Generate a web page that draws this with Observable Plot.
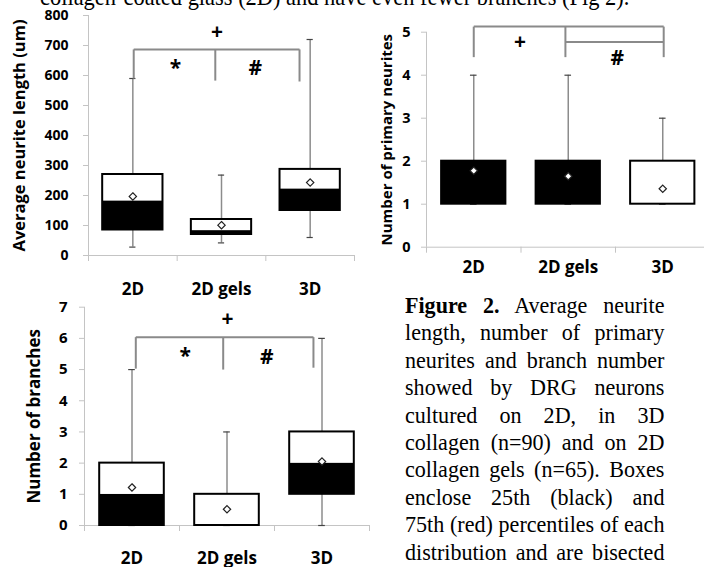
<!DOCTYPE html>
<html>
<head>
<meta charset="utf-8">
<script src="https://cdn.jsdelivr.net/npm/d3@7"></script>
<script src="https://cdn.jsdelivr.net/npm/@observablehq/plot@0.6"></script>
<style>
  html, body { margin: 0; padding: 0; background: #fff; }
  body { width: 704px; height: 567px; overflow: hidden; position: relative; }
  .panel { position: absolute; }
  .panel svg { max-width: none !important; background: transparent; overflow: visible; }
  .panel svg text { font-weight: 700; }
  .serif { font-family: "Liberation Serif", "Times New Roman", serif; font-size: 24px; line-height: 27.4px; color: #000; }
  #topline { position: absolute; left: 40px; top: -17px; white-space: nowrap; font-size: 24.4px; transform: scaleX(0.92); transform-origin: 0 0; }
  #caption { position: absolute; left: 405px; top: 292px; width: 282px; transform: scaleX(0.92); transform-origin: 0 0; }
  #caption div { text-align: justify; text-align-last: justify; }
</style>
</head>
<body>
<div id="topline" class="serif">collagen-coated glass (2D) and have even fewer branches (Fig 2).</div>
<div id="p1" class="panel" style="left:0px;top:0px;width:360px;height:300px"></div>
<div id="p2" class="panel" style="left:352px;top:0px;width:360px;height:290px"></div>
<div id="p3" class="panel" style="left:0px;top:290px;width:375px;height:277px"></div>
<div id="caption" class="serif">
  <div><b>Figure 2.</b> Average neurite</div>
  <div>length, number of primary</div>
  <div>neurites and branch number</div>
  <div>showed by DRG neurons</div>
  <div>cultured on 2D, in 3D</div>
  <div>collagen (n=90) and on 2D</div>
  <div>collagen gels (n=65). Boxes</div>
  <div>enclose 25th (black) and</div>
  <div>75th (red) percentiles of each</div>
  <div>distribution and are bisected</div>
</div>
<script>
// ---------- data ----------
const categories = ["2D", "2D gels", "3D"];

// Panel A: average neurite length (um)
const lengthMin    = [28, 42, 60];
const lengthQ1     = [85, 70, 150];
const lengthMedian = [182, 83, 222];
const lengthQ3     = [270, 120, 287];
const lengthMax    = [590, 268, 720];
const lengthMean   = [197, 101, 243];
const lengthTicks  = [0, 100, 200, 300, 400, 500, 600, 700, 800];
const lengthBrackets = [
  {x1: 0.51, y1: 687, x2: 2.38, y2: 687},
  {x1: 0.51, y1: 687, x2: 0.51, y2: 590},
  {x1: 1.43, y1: 687, x2: 1.43, y2: 583},
  {x1: 2.38, y1: 687, x2: 2.38, y2: 580}
];
const lengthSigns = [
  {label: "+", x: 1.45, y: 743},
  {label: "*", x: 0.98, y: 624},
  {label: "#", x: 1.88, y: 623}
];

// Panel B: number of primary neurites
const primaryMin    = [1, 1, 1];
const primaryQ1     = [1, 1, 1];
const primaryMedian = [2, 2, 1];
const primaryQ3     = [2, 2, 2];
const primaryMax    = [4, 4, 3];
const primaryMean   = [1.78, 1.65, 1.36];
const primaryTicks  = [0, 1, 2, 3, 4, 5];
const primaryBrackets = [
  {x1: 0.5, y1: 5.13, x2: 2.51, y2: 5.13},
  {x1: 0.5, y1: 5.13, x2: 0.5, y2: 4.42},
  {x1: 1.47, y1: 5.13, x2: 1.47, y2: 4.42},
  {x1: 2.51, y1: 5.13, x2: 2.51, y2: 4.42},
  {x1: 1.47, y1: 4.77, x2: 2.51, y2: 4.77}
];
const primarySigns = [
  {label: "+", x: 0.99, y: 4.76},
  {label: "#", x: 2.02, y: 4.39}
];

// Panel C: number of branches
const branchMin    = [0, 0, 0];
const branchQ1     = [0, 0, 1];
const branchMedian = [1, 0, 2];
const branchQ3     = [2, 1, 3];
const branchMax    = [5, 3, 6];
const branchMean   = [1.22, 0.52, 2.05];
const branchTicks  = [0, 1, 2, 3, 4, 5, 6, 7];
const branchBrackets = [
  {x1: 0.54, y1: 6.04, x2: 2.41, y2: 6.04},
  {x1: 0.54, y1: 6.04, x2: 0.54, y2: 5.03},
  {x1: 1.46, y1: 6.04, x2: 1.46, y2: 5.0},
  {x1: 2.41, y1: 6.04, x2: 2.41, y2: 5.06}
];
const branchSigns = [
  {label: "+", x: 1.505, y: 6.6},
  {label: "*", x: 1.06, y: 5.42},
  {label: "#", x: 1.92, y: 5.38}
];

// ---------- drawing ----------
const axisGray = "#c4c4c4";
const whiskerGray = "#8c8c8c";
const bracketGray = "#8a8a8a";
const FONT = "'Open Sans', sans-serif";

function rowsOf(min, q1, med, q3, max, mean) {
  return categories.map((c, i) => ({
    c, x: i + 0.5, min: min[i], q1: q1[i], median: med[i], q3: q3[i], max: max[i], mean: mean[i]
  }));
}

function panel(o) {
  const hw = 0.34, cw = 0.035;
  const rows = o.rows;
  return Plot.plot({
    width: o.width, height: o.height,
    marginLeft: o.ml, marginRight: o.mr, marginTop: o.mt, marginBottom: o.mb,
    x: {type: "linear", domain: [0, 3]},
    y: {domain: o.yDomain},
    style: {fontFamily: FONT, fontWeight: "bold", color: "black", background: "transparent", overflow: "visible"},
    marks: [
      Plot.ruleX([0], {stroke: axisGray, strokeWidth: 1}),
      Plot.ruleY([0], {stroke: axisGray, strokeWidth: 1}),
      Plot.axisY({ticks: o.yTicks, tickSize: 5, tickPadding: o.tickPad, stroke: axisGray, fill: "black",
                  tickFormat: d => String(d),
                  fontSize: o.tickFont, fontWeight: "bold", fontFamily: FONT, label: null}),
      Plot.axisX({ticks: [0, 1, 2, 3], tickSize: 6, tickFormat: () => "", stroke: axisGray, label: null}),
      Plot.axisX({ticks: [0.5, 1.5, 2.5], tickSize: 0, tickPadding: o.xPad, fill: "black",
                  tickFormat: v => categories[Math.floor(v)], fontSize: 17, fontWeight: "bold",
                  fontFamily: FONT, label: null}),
      Plot.text([o.yLabel], {frameAnchor: "left", dx: o.yLabelDx, rotate: -90, text: d => d,
                             textAnchor: "middle", lineAnchor: "middle",
                             fontSize: o.yLabelSize, fontWeight: "bold", fontFamily: FONT, fill: "black"}),
      // whiskers
      Plot.ruleX(rows, {x: "x", y1: "q3", y2: "max", stroke: whiskerGray, strokeWidth: 1.5}),
      Plot.ruleX(rows, {x: "x", y1: "min", y2: "q1", stroke: whiskerGray, strokeWidth: 1.5}),
      Plot.ruleY(rows, {y: "max", x1: d => d.x - cw, x2: d => d.x + cw, stroke: "#444", strokeWidth: 1.2}),
      Plot.ruleY(rows, {y: "min", x1: d => d.x - cw, x2: d => d.x + cw, stroke: "#444", strokeWidth: 1.2}),
      // boxes
      Plot.rect(rows, {x1: d => d.x - hw, x2: d => d.x + hw, y1: "q1", y2: "median", fill: "black"}),
      Plot.rect(rows, {x1: d => d.x - hw, x2: d => d.x + hw, y1: "median", y2: "q3", fill: "white"}),
      Plot.rect(rows, {x1: d => d.x - hw, x2: d => d.x + hw, y1: "q1", y2: "q3", fill: "none", stroke: "black", strokeWidth: 2}),
      // means
      Plot.dot(rows, {x: "x", y: "mean", symbol: "diamond2", r: 3.3, fill: "white", stroke: "#222", strokeWidth: 1.2}),
      // significance brackets
      Plot.link(o.brackets, {x1: "x1", y1: "y1", x2: "x2", y2: "y2", stroke: bracketGray, strokeWidth: 2}),
      Plot.text(o.signs, {x: "x", y: "y", text: "label", fontSize: 21, fontWeight: "bold", fontFamily: FONT, fill: "black"})
    ]
  });
}

document.getElementById("p1").append(panel({
  width: 360, height: 300, ml: 88, mr: 6, mt: 15, mb: 45,
  yDomain: [0, 800], yTicks: lengthTicks, tickPad: 15, tickFont: 14, xPad: 27,
  yLabel: "Average neurite length (um)", yLabelSize: 16.5, yLabelDx: -69,
  rows: rowsOf(lengthMin, lengthQ1, lengthMedian, lengthQ3, lengthMax, lengthMean),
  brackets: lengthBrackets, signs: lengthSigns
}));

document.getElementById("p2").append(panel({
  width: 360, height: 290, ml: 74, mr: 2.5, mt: 31.7, mb: 43.3,
  yDomain: [0, 5], yTicks: primaryTicks, tickPad: 11, tickFont: 14.5, xPad: 14,
  yLabel: "Number of primary neurites", yLabelSize: 15, yLabelDx: -39.5,
  rows: rowsOf(primaryMin, primaryQ1, primaryMedian, primaryQ3, primaryMax, primaryMean),
  brackets: primaryBrackets, signs: primarySigns
}));

document.getElementById("p3").append(panel({
  width: 375, height: 277, ml: 84, mr: 6, mt: 16.7, mb: 42,
  yDomain: [0, 7], yTicks: branchTicks, tickPad: 12, tickFont: 15, xPad: 26,
  yLabel: "Number of branches", yLabelSize: 17, yLabelDx: -50,
  rows: rowsOf(branchMin, branchQ1, branchMedian, branchQ3, branchMax, branchMean),
  brackets: branchBrackets, signs: branchSigns
}));
</script>
</body>
</html>
